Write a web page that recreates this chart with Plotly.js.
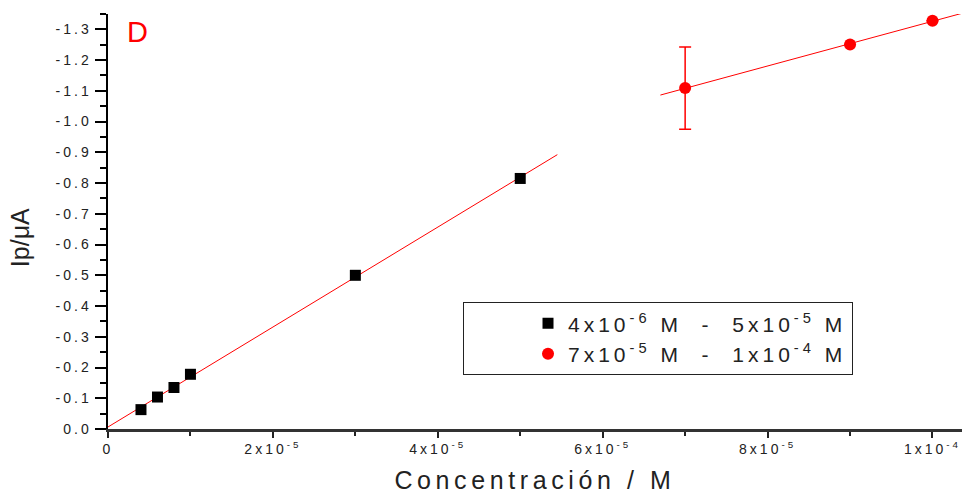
<!DOCTYPE html>
<html>
<head>
<meta charset="utf-8">
<script src="https://cdn.plot.ly/plotly-3.0.1.min.js"></script>
<style>
  html, body { margin: 0; padding: 0; background: #fff; }
  #chart { width: 962px; height: 494px; }
  .ytick text { letter-spacing: 3px; }
  .xtick text { letter-spacing: 3px; }
  .legendtext { letter-spacing: 4px; }
  .g-xtitle text { letter-spacing: 4.6px; }
</style>
</head>
<body>
<div id="chart"></div>
<script>
// Low concentration range (M) and peak current (µA)
const lowConc = [4e-6, 6e-6, 8e-6, 1e-5, 3e-5, 5e-5];
const lowCurrent = [-0.063, -0.104, -0.135, -0.178, -0.500, -0.815];
// High concentration range
const highConc = [7e-5, 9e-5, 1e-4];
const highCurrent = [-1.109, -1.251, -1.328];
const highError = [0.134, null, null];
// Extent of the calibration fit lines
const lowFitRange = [0, 5.45e-5];
const highFitRange = [6.7e-5, 1.04e-4];
// Tick labels
const xTickVals = [0, 2e-5, 4e-5, 6e-5, 8e-5, 1e-4];
const xTickText = ["0", "2x10<sup>-5</sup>", "4x10<sup>-5</sup>", "6x10<sup>-5</sup>", "8x10<sup>-5</sup>", "1x10<sup>-4</sup>"];
const yTickVals = [0, -0.1, -0.2, -0.3, -0.4, -0.5, -0.6, -0.7, -0.8, -0.9, -1.0, -1.1, -1.2, -1.3];
const yTickText = ["0.0", "-0.1", "-0.2", "-0.3", "-0.4", "-0.5", "-0.6", "-0.7", "-0.8", "-0.9", "-1.0", "-1.1", "-1.2", "-1.3"];
// Labels
const legendNames = ["4x10<sup>-6</sup> M  -  5x10<sup>-5</sup> M", "7x10<sup>-5</sup> M  -  1x10<sup>-4</sup> M"];
const xTitle = "Concentración / M";
const yTitle = "Ip/μA";
const panelLabel = "D";

function linFit(xs, ys) {
  const n = xs.length;
  const mx = xs.reduce((a, b) => a + b, 0) / n;
  const my = ys.reduce((a, b) => a + b, 0) / n;
  let sxx = 0, sxy = 0;
  for (let i = 0; i < n; i++) { sxx += (xs[i] - mx) ** 2; sxy += (xs[i] - mx) * (ys[i] - my); }
  const m = sxy / sxx;
  return { m: m, b: my - m * mx };
}
const f1 = linFit(lowConc, lowCurrent);
const f2 = linFit(highConc, highCurrent);

const font = "Liberation Sans, Arial, sans-serif";

const traces = [
  { x: lowFitRange, y: lowFitRange.map(x => f1.m * x + f1.b), mode: "lines",
    line: { color: "#ff0000", width: 1 }, showlegend: false, hoverinfo: "skip" },
  { x: highFitRange, y: highFitRange.map(x => f2.m * x + f2.b), mode: "lines",
    line: { color: "#ff0000", width: 1 }, showlegend: false, hoverinfo: "skip" },
  { x: lowConc, y: lowCurrent, mode: "markers", name: legendNames[0],
    marker: { symbol: "square", size: 11, color: "#000000" } },
  { x: highConc, y: highCurrent, mode: "markers", name: legendNames[1],
    marker: { symbol: "circle", size: 12, color: "#ff0000" },
    error_y: { type: "data", array: highError, symmetric: true, color: "#ff0000", thickness: 1.5, width: 6 } }
];

const layout = {
  width: 962, height: 494,
  margin: { l: 108, r: 0, t: 14, b: 65 },
  paper_bgcolor: "#ffffff", plot_bgcolor: "#ffffff",
  font: { family: font, color: "#222222" },
  xaxis: {
    range: [0, 1.0358e-4], showgrid: false, zeroline: false,
    showline: true, linecolor: "#333333", linewidth: 2.5,
    ticks: "outside", ticklen: 6, tickwidth: 2, tickcolor: "#222222",
    tickmode: "array", tickvals: xTickVals, ticktext: xTickText,
    tickfont: { family: font, size: 14, color: "#222222" },
    minor: { tickmode: "linear", tick0: 0, dtick: 1e-5, ticks: "outside", ticklen: 4, tickwidth: 2, tickcolor: "#222222" },
    title: { text: xTitle, font: { family: font, size: 25, color: "#222222" }, standoff: 18 },
    automargin: false
  },
  yaxis: {
    range: [0, -1.35], showgrid: false, zeroline: false,
    showline: true, linecolor: "#000000", linewidth: 2.5,
    ticks: "outside", ticklen: 11, tickwidth: 2, tickcolor: "#000000",
    tickmode: "array", tickvals: yTickVals, ticktext: yTickText,
    tickfont: { family: font, size: 14, color: "#222222" },
    minor: { tickmode: "linear", tick0: 0, dtick: 0.05, ticks: "outside", ticklen: 6, tickwidth: 2, tickcolor: "#000000" },
    automargin: false
  },
  legend: {
    x: 0.4157, y: 0.3055, xanchor: "left", yanchor: "top",
    bgcolor: "#ffffff", bordercolor: "#222222", borderwidth: 1,
    font: { family: font, size: 21, color: "#222222" },
    indentation: 64, tracegroupgap: 0,
    entrywidthmode: "pixels", entrywidth: 330
  },
  annotations: [
    {
      text: panelLabel, xref: "paper", yref: "paper", x: 0.034, y: 0.957,
      xanchor: "center", yanchor: "middle", showarrow: false,
      font: { family: font, size: 29, color: "#ff0000" }
    },
    {
      text: yTitle, xref: "paper", yref: "paper", x: -0.103, y: 0.46,
      xanchor: "center", yanchor: "middle", showarrow: false, textangle: -90,
      font: { family: font, size: 25, color: "#222222" }
    }
  ]
};

Plotly.newPlot("chart", traces, layout, { displayModeBar: false, staticPlot: true });
</script>
</body>
</html>
